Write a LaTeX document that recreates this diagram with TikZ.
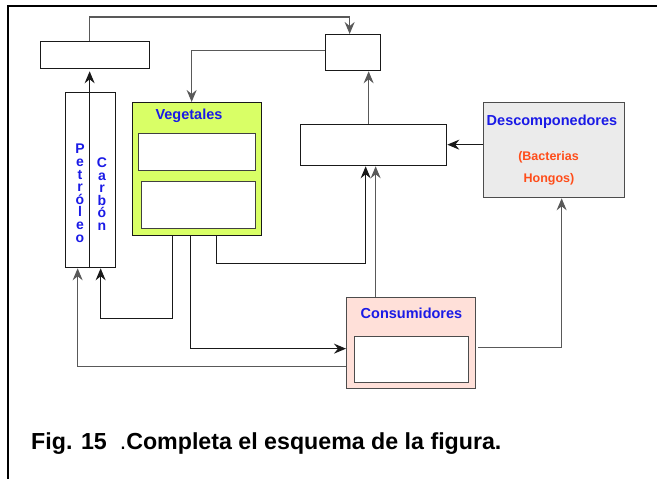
\documentclass[tikz,border=0pt]{standalone}
\usepackage{fontspec}
\setmainfont{Liberation Sans}
\usepackage{tikz}
\usetikzlibrary{arrows.meta}

\definecolor{verdeveg}{HTML}{D9FF66}
\definecolor{rosacons}{HTML}{FFE0D9}
\definecolor{grisdesc}{HTML}{EBEBEB}
\definecolor{azultxt}{HTML}{1A1AE6}
\definecolor{naranjatxt}{HTML}{FF4D1A}

\tikzset{
  caja/.style={draw=black!90, line width=1.3, inner sep=0, anchor=north west},
  flecha/.style={-{Stealth[length=12pt,width=10pt,inset=4pt]}, line width=1.2, draw=black!90},
  gris/.style={draw=black!65},
  rotulo/.style={text=azultxt, font=\fontsize{14.5}{16}\selectfont\bfseries, inner sep=0, anchor=base},
  rotulob/.style={text=naranjatxt, font=\fontsize{12.5}{14}\selectfont\bfseries, inner sep=0, anchor=base},
  vertical/.style={text=azultxt, font=\fontsize{14}{12.6}\selectfont\bfseries, align=center, inner sep=0, anchor=north}
}

\begin{document}
\begin{tikzpicture}[x=1pt, y=-1pt]
\useasboundingbox (0,0) rectangle (657,479);
\draw[line width=1.5] (657,6) -- (8,6) -- (8,479);

\node[caja, minimum width=109, minimum height=27] (caja1) at (40,41) {};
\node[caja, minimum width=55, minimum height=36] (arriba) at (325,34) {};
\node[caja, minimum width=50, minimum height=175] (col) at (65,92) {};
\node[caja, fill=verdeveg, minimum width=129, minimum height=133] (veg) at (132,102) {};
\node[caja, draw=black!75, fill=white, minimum width=117, minimum height=37] (vi1) at (138,133) {};
\node[caja, draw=black!75, fill=white, minimum width=114, minimum height=47] (vi2) at (141,181) {};
\node[caja, minimum width=146, minimum height=41] (medio) at (300,124) {};
\node[caja, draw=black!70, fill=grisdesc, minimum width=141, minimum height=95] (desc) at (483,102) {};
\node[caja, draw=black!70, fill=rosacons, minimum width=129, minimum height=91] (cons) at (346,297) {};
\node[caja, draw=black!70, fill=white, minimum width=114, minimum height=46] (ci) at (354,336) {};

\node[rotulo] (tveg) at (189,119) {Vegetales};
\node[rotulo] (tdesc) at (552,125.5) {Descomponedores};
\node[rotulob] (tbact) at (548.5,160) {(Bacterias};
\node[rotulob] (thong) at (549,182.5) {Hongos)};
\node[rotulo] (tcons) at (411.5,318.5) {Consumidores};
\node[vertical] (tpet) at (80,144) {P\\e\\t\\r\\ó\\l\\e\\o};
\node[vertical] (tcarb) at (102,157.5) {C\\a\\r\\b\\ó\\n};

\draw[flecha, gris] ([xshift=-5.5]caja1.north) -- ++(0,-24) -| ([xshift=-3.5]arriba.north);
\draw[flecha, gris] ([yshift=2]arriba.west) -| ([xshift=-5.5]veg.north);
\draw[flecha, shorten >=2] ([xshift=-1]col.south) -- ([xshift=-5.5]caja1.south);
\draw[flecha] ([xshift=-24.5]veg.south) -- ++(0,82) -| ([xshift=10]col.south);
\draw[flecha] ([xshift=-6.5]veg.south) |- ([yshift=-5.5]cons.west);
\draw[flecha] ([xshift=19.5]veg.south) -- ++(0,27) -| ([xshift=-8]medio.south);
\draw[flecha, gris] ([xshift=-35.5]cons.north) -- ([xshift=2]medio.south);
\draw[flecha, gris] ([xshift=-5]medio.north) -- ([xshift=15.5]arriba.south);
\draw[flecha] ([yshift=5.5]desc.west) -- ([yshift=0.5]medio.east);
\draw[flecha, gris] ([xshift=2,yshift=-4.5]cons.east) -| ([xshift=7.5]desc.south);
\draw[flecha, gris] ([yshift=-23.5]cons.west) -| ([xshift=-13]col.south);

\node[font=\fontsize{23.2}{26}\selectfont\bfseries, inner sep=0, anchor=base west] (pie) at (31,449)
  {Fig. 15\hspace{13pt}{\mdseries .}Completa el esquema de la figura.};
\end{tikzpicture}
\end{document}
